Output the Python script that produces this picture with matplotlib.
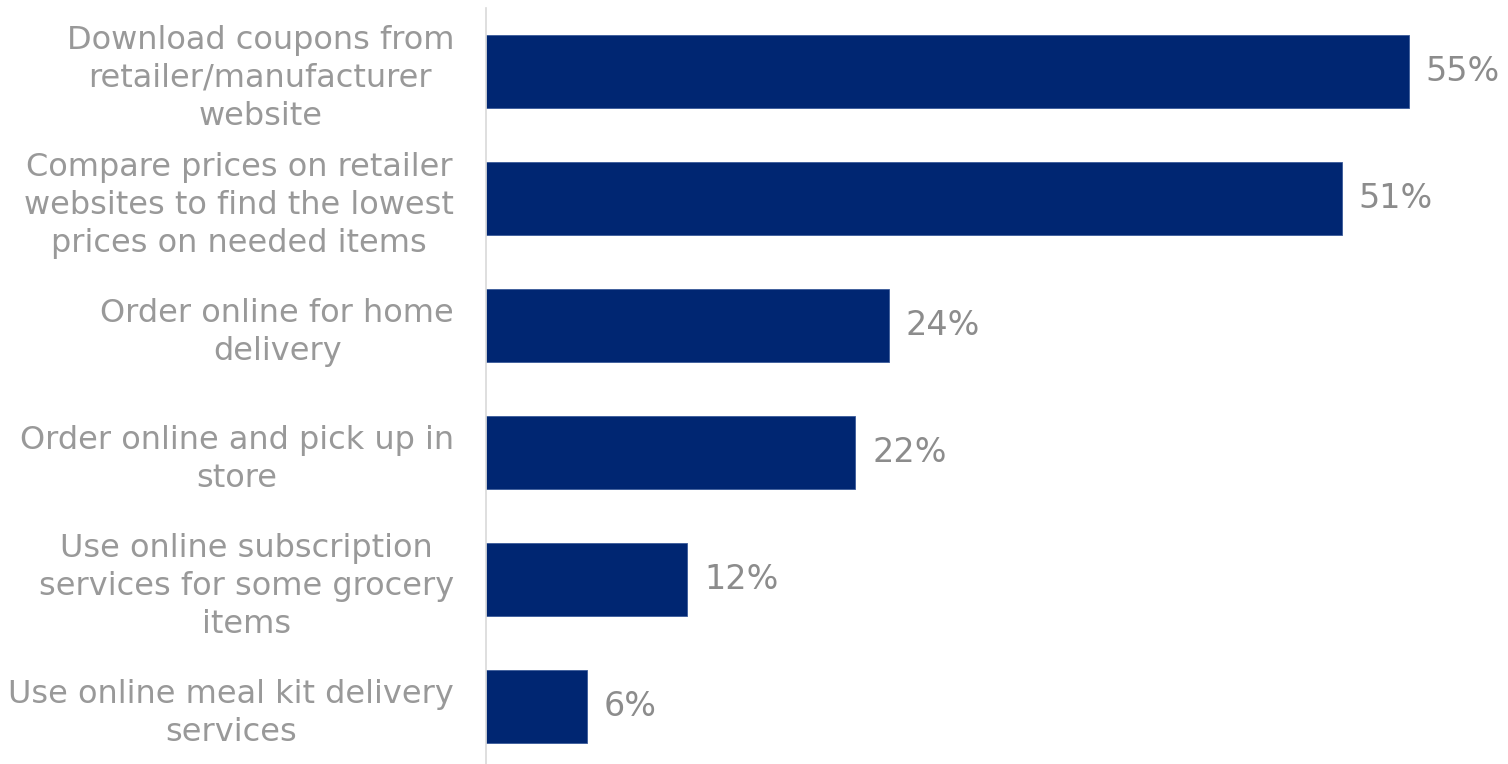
import matplotlib
matplotlib.use("Agg")
import matplotlib.pyplot as plt

# survey answers, top to bottom
activities = [
    "Download coupons from\nretailer/manufacturer\nwebsite",
    "Compare prices on retailer\nwebsites to find the lowest\nprices on needed items",
    "Order online for home\ndelivery",
    "Order online and pick up in\nstore",
    "Use online subscription\nservices for some grocery\nitems",
    "Use online meal kit delivery\nservices",
]
shares = [55, 51, 24, 22, 12, 6]

bar_color = "#002672"
label_color = "#999999"
value_color = "#8c8c8c"

fig = plt.figure(figsize=(15.08, 7.64), dpi=100)
ax = fig.add_axes([486 / 1508, 0, 1007 / 1508, 756 / 764])

pos = list(range(len(activities)))
ax.barh(pos, shares, height=0.575, color=bar_color, edgecolor="#3a5a9a", linewidth=0.6)
ax.set_xlim(0, 60)
ax.set_ylim(-0.5 + 756 / 127, -0.5)

for y, v in zip(pos, shares):
    ax.text(v + 1.0, y, f"{v}%", va="center", ha="left", fontsize=24, color=value_color)

ax.set_yticks(pos)
ax.set_yticklabels(activities, fontsize=23, color=label_color, linespacing=1.28,
                   multialignment="center")
ax.tick_params(axis="y", length=0, pad=23)
ax.set_xticks([])

for side in ["top", "right", "bottom"]:
    ax.spines[side].set_visible(False)
ax.spines["left"].set_color("#d9d9d9")
ax.spines["left"].set_linewidth(1.2)

fig.savefig("out.png", dpi=100)
